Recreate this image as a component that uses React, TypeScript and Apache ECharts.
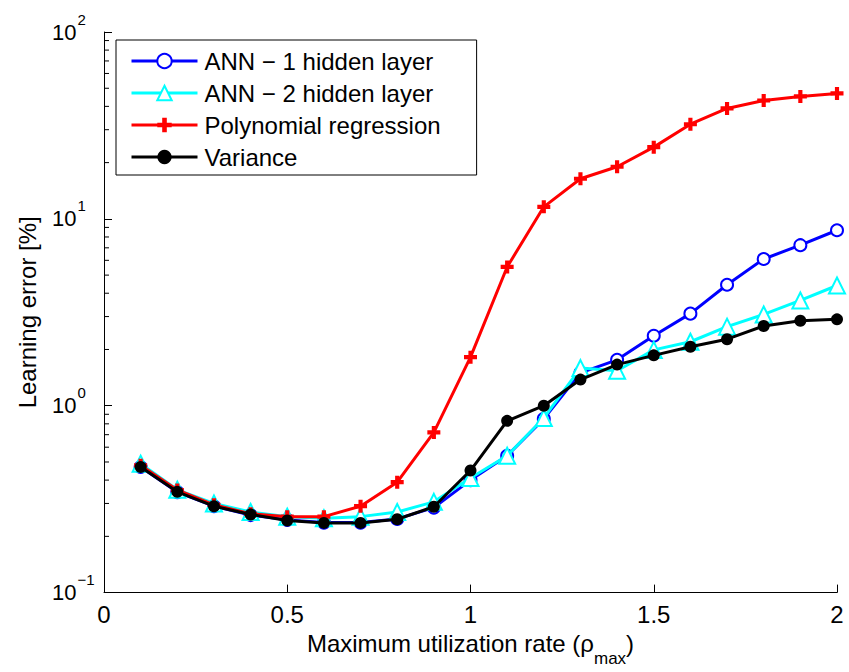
import React, { useEffect, useRef } from "react";
import * as echarts from "echarts";

const xValues = [0.1, 0.2, 0.3, 0.4, 0.5, 0.6, 0.7, 0.8, 0.9, 1.0, 1.1, 1.2, 1.3, 1.4, 1.5, 1.6, 1.7, 1.8, 1.9, 2.0];
const ann1 = [0.47, 0.345, 0.29, 0.26, 0.245, 0.237, 0.237, 0.248, 0.285, 0.4, 0.54, 0.85, 1.5, 1.76, 2.37, 3.11, 4.44, 6.1, 7.23, 8.69];
const ann2 = [0.49, 0.355, 0.3, 0.27, 0.255, 0.25, 0.255, 0.27, 0.306, 0.41, 0.54, 0.86, 1.59, 1.54, 1.99, 2.2, 2.65, 3.08, 3.66, 4.4];
const poly = [0.48, 0.354, 0.295, 0.264, 0.255, 0.255, 0.29, 0.39, 0.72, 1.82, 5.53, 11.6, 16.4, 19.0, 24.2, 32.1, 39.0, 43.0, 45.2, 46.9];
const variance = [0.47, 0.346, 0.29, 0.262, 0.243, 0.236, 0.236, 0.247, 0.288, 0.45, 0.83, 1.0, 1.38, 1.66, 1.86, 2.07, 2.27, 2.67, 2.85, 2.9];
const seriesNames = ["ANN \u2212 1 hidden layer", "ANN \u2212 2 hidden layer", "Polynomial regression", "Variance"];
const minorTickValues = [0.2, 0.3, 0.4, 0.5, 0.6, 0.7, 0.8, 0.9, 2, 3, 4, 5, 6, 7, 8, 9, 20, 30, 40, 50, 60, 70, 80, 90];

const FONT = "Liberation Sans";
const PLUS = "path://M3.4,0H6.6V3.4H10V6.6H6.6V10H3.4V6.6H0V3.4H3.4Z";

const pairs = (ys: number[]) => xValues.map((x, i) => [x, ys[i]]);

export default function App() {
  const ref = useRef<HTMLDivElement>(null);
  useEffect(() => {
    const chart = echarts.init(ref.current!, null, { renderer: "svg" });
    chart.setOption({
      animation: false,
      backgroundColor: "#fff",
      textStyle: { fontFamily: FONT, color: "#000" },
      grid: { left: 104, right: 12, top: 32, bottom: 75, containLabel: false },
      legend: {
        data: seriesNames,
        orient: "vertical",
        left: 116,
        top: 40,
        backgroundColor: "#fff",
        borderColor: "#000",
        borderWidth: 1,
        borderRadius: 0,
        padding: [9, 36, 6, 14],
        itemWidth: 66,
        itemHeight: 18,
        itemGap: 8,
        lineStyle: { width: 3 },
        textStyle: { fontFamily: FONT, fontSize: 24, color: "#000", padding: [0, 0, 0, 2] },
      },
      xAxis: {
        type: "value",
        min: 0,
        max: 2,
        interval: 0.5,
        name: "{a|Maximum utilization rate (\u03c1}{s|max}{a|)}",
        nameLocation: "middle",
        nameGap: 26,
        nameTextStyle: {
          rich: {
            a: { fontFamily: FONT, fontSize: 24, color: "#000" },
            s: { fontFamily: FONT, fontSize: 17, color: "#000", padding: [30, 0, 0, 0] },
          },
        },
        axisLine: { lineStyle: { color: "#000", width: 1 } },
        axisTick: { inside: true, length: 8, lineStyle: { color: "#000" } },
        axisLabel: { fontFamily: FONT, fontSize: 24, color: "#000", margin: 10 },
        splitLine: { show: false },
      },
      yAxis: {
        type: "log",
        logBase: 10,
        min: 0.1,
        max: 100,
        name: "Learning error [%]",
        nameLocation: "middle",
        nameGap: 65,
        nameTextStyle: { fontFamily: FONT, fontSize: 24, color: "#000" },
        axisLine: { show: true, lineStyle: { color: "#000", width: 1 } },
        axisTick: { inside: true, length: 8, lineStyle: { color: "#000" } },
        axisLabel: {
          margin: 52,
          align: "left",
          formatter: (v: number) => {
            const e = Math.round(Math.log10(v));
            return "{b|10}{e|" + (e < 0 ? "\u2212" + -e : String(e)) + "}";
          },
          rich: {
            b: { fontFamily: FONT, fontSize: 22, color: "#000" },
            e: { fontFamily: FONT, fontSize: 15, color: "#000", padding: [0, 0, 26, 1] },
          },
        },
        splitLine: { show: false },
      },
      series: [
        {
          type: "custom",
          silent: true,
          z: 1,
          data: minorTickValues.map((v) => [0, v]),
          renderItem: (params: any, api: any) => {
            const p = api.coord([0, api.value(1)]);
            return {
              type: "line",
              shape: { x1: p[0], y1: p[1], x2: p[0] + 5, y2: p[1] },
              style: { stroke: "#000", lineWidth: 1 },
            };
          },
        },
        {
          name: seriesNames[0],
          type: "line",
          data: pairs(ann1),
          symbol: "emptyCircle",
          symbolSize: 12,
          color: "#0000ff",
          lineStyle: { width: 3, color: "#0000ff" },
          itemStyle: { color: "#0000ff", borderColor: "#0000ff", borderWidth: 3 },
          z: 2,
        },
        {
          name: seriesNames[1],
          type: "line",
          data: pairs(ann2),
          symbol: "emptyTriangle",
          symbolSize: 16,
          color: "#00ffff",
          lineStyle: { width: 3, color: "#00ffff" },
          itemStyle: { color: "#00ffff", borderColor: "#00ffff", borderWidth: 3 },
          z: 3,
        },
        {
          name: seriesNames[2],
          type: "line",
          data: pairs(poly),
          symbol: PLUS,
          symbolSize: 13,
          color: "#ff0000",
          lineStyle: { width: 3, color: "#ff0000" },
          itemStyle: { color: "#ff0000", borderWidth: 0 },
          z: 4,
        },
        {
          name: seriesNames[3],
          type: "line",
          data: pairs(variance),
          symbol: "circle",
          symbolSize: 12,
          color: "#000",
          lineStyle: { width: 3, color: "#000" },
          itemStyle: { color: "#000" },
          z: 5,
        },
      ],
    });
    return () => chart.dispose();
  }, []);
  return <div ref={ref} style={{ position: "fixed", left: 0, top: 0, width: 849, height: 672 }} />;
}
